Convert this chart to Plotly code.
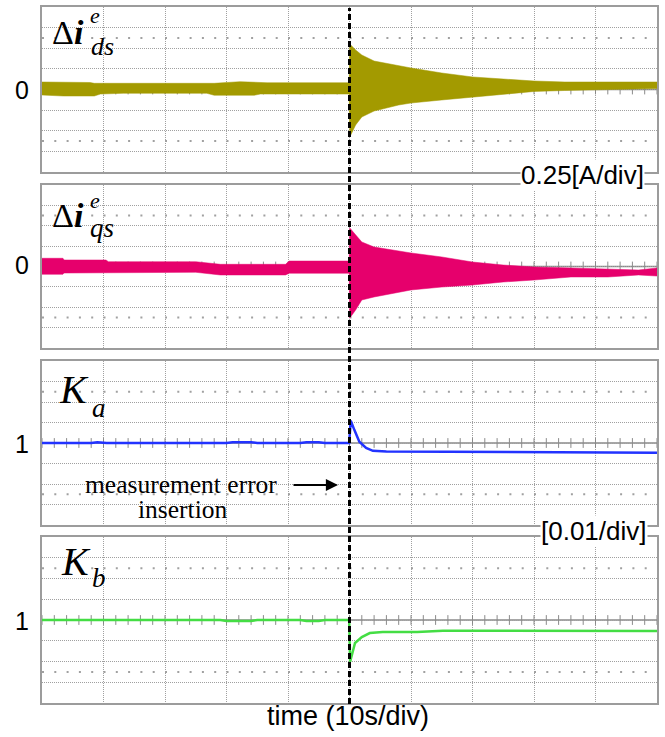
import numpy as np
import plotly.graph_objects as go

W, H = 665, 737

# ---------------- data ----------------
# time in seconds (10 s/div, 10 divisions); error inserted at t = 50 s
t_ids = [0, 3.5, 7.8, 8.5, 9.5, 13.2, 20.3, 26.8, 28, 32.2, 34.5, 35.5, 36.6, 49.95,
         50.05, 51, 52, 54, 58, 60, 65, 70, 75, 80, 85, 90, 95, 100]
ids_upper = [0.091, 0.091, 0.085, 0.075, 0.075, 0.075, 0.067, 0.067, 0.075, 0.095, 0.091, 0.088, 0.082, 0.082,
             0.552, 0.479, 0.418, 0.345, 0.285, 0.261, 0.200, 0.152, 0.127, 0.103, 0.091, 0.091, 0.091, 0.091]
ids_lower = [-0.067, -0.079, -0.079, -0.079, -0.055, -0.046, -0.046, -0.046, -0.070, -0.070, -0.070, -0.055, -0.055, -0.055,
             -0.576, -0.430, -0.333, -0.261, -0.188, -0.164, -0.127, -0.091, -0.055, -0.024, -0.012, -0.006, 0.006, 0.012]

t_iqs = [0, 3.4, 3.6, 10.4, 10.8, 25, 29, 39.6, 40.2, 49.95,
         50.05, 51, 52, 54, 60, 65, 70, 75, 80, 86, 92, 97, 100]
iqs_upper = [0.101, 0.101, 0.080, 0.080, 0.059, 0.059, 0.027, 0.027, 0.067, 0.067,
             0.472, 0.387, 0.301, 0.239, 0.166, 0.117, 0.055, 0.018, -0.006, -0.018, -0.031, -0.043, -0.018]
iqs_lower = [-0.096, -0.096, -0.080, -0.080, -0.071, -0.071, -0.104, -0.104, -0.083, -0.083,
             -0.632, -0.534, -0.411, -0.374, -0.288, -0.252, -0.227, -0.190, -0.166, -0.129, -0.129, -0.104, -0.117]

t_ka = [0, 8, 9, 10.5, 30, 31, 34, 35, 42, 43, 45, 46, 49.95, 50.2, 50.8, 51.6, 52.7, 53.8, 56, 70, 85, 100]
ka = [1.0, 1.0, 1.0004, 1.0, 1.0, 1.0004, 1.0004, 1.0, 1.0, 1.0004, 1.0004, 1.0, 1.0,
      1.0109, 1.0063, 1.0006, 0.9976, 0.9962, 0.9959, 0.9957, 0.9955, 0.9953]

t_kb = [0, 29, 30, 34, 35, 42, 43, 45, 46, 49.95, 50.1, 50.9, 52.0, 53.3, 55.4, 61, 65.2, 80, 100]
kb = [1.0, 1.0, 0.9995, 0.9995, 1.0, 1.0, 0.9995, 0.9995, 1.0, 1.0,
      0.9799, 0.9889, 0.9918, 0.9937, 0.9942, 0.9942, 0.9948, 0.9949, 0.9947]

# panel scales: (center, value per division)
scales = [(0.0, 0.25), (0.0, 0.25), (1.0, 0.01), (1.0, 0.01)]
center_labels = ["0", "0", "1", "1"]

# ---------------- layout helpers ----------------
def fx(px):
    return px / W

def fy(py):
    return 1 - py / H

panel_px = [(7, 172), (185, 348), (361, 525), (537, 703)]
X0, X1 = 42, 657

C_DS = "#a39a00"
C_QS = "#e6006c"
C_KA = "#2233ff"
C_KB = "#44dd44"
GRID = "#a0a0a0"
BORDER = "#9c9c9c"

fig = go.Figure()
layout = dict(width=W, height=H, margin=dict(l=0, r=0, t=0, b=0),
              paper_bgcolor="white", plot_bgcolor="white", showlegend=False)

shapes = []
annotations = []
tick_t = np.arange(0, 100.01, 2)

for i, ((top, bot), (cen, dv)) in enumerate(zip(panel_px, scales), start=1):
    xk = "xaxis" if i == 1 else f"xaxis{i}"
    yk = "yaxis" if i == 1 else f"yaxis{i}"
    xr = "x" if i == 1 else f"x{i}"
    yr = "y" if i == 1 else f"y{i}"
    layout[xk] = dict(domain=[fx(X0), fx(X1)], range=[0, 100], anchor=yr,
                      showticklabels=False, ticks="", zeroline=False,
                      showgrid=True, dtick=10, tick0=0, gridcolor=GRID, gridwidth=1, griddash="1px,1px",
                      showline=True, mirror=True, linecolor=BORDER, linewidth=2, fixedrange=True)
    layout[yk] = dict(domain=[fy(bot), fy(top)], range=[cen - 4 * dv, cen + 4 * dv], anchor=xr,
                      showticklabels=False, ticks="", zeroline=False,
                      showgrid=True, dtick=dv, tick0=cen, gridcolor=GRID, gridwidth=1, griddash="1px,1px",
                      showline=True, mirror=True, linecolor=BORDER, linewidth=2, fixedrange=True)
    # sparse dotted rows at +/-2.5 div
    for s in (2.5, -2.5):
        shapes.append(dict(type="line", xref=xr, yref=yr, x0=0, x1=100, y0=cen + s * dv, y1=cen + s * dv,
                           line=dict(color="#a0a0a0", width=2, dash="2px,10.3px"), layer="below"))
    # center axis line
    shapes.append(dict(type="line", xref=xr, yref=yr, x0=0, x1=100, y0=cen, y1=cen,
                       line=dict(color="#8a8a8a", width=1.5), layer="below"))
    # center axis minor ticks
    fig.add_trace(go.Scatter(x=tick_t, y=[cen] * len(tick_t), mode="markers", xaxis=xr, yaxis=yr,
                             marker=dict(symbol="line-ns", size=7, line=dict(color="#8a8a8a", width=1)),
                             hoverinfo="skip"))
    # center value label
    annotations.append(dict(text=center_labels[i - 1], xref="paper", yref="paper",
                            x=fx(22), y=fy((top + bot) / 2 + (1 if i != 2 else -2)),
                            xanchor="center", yanchor="middle", showarrow=False,
                            font=dict(family="Liberation Sans", size=25, color="black")))

# band traces
for xr, yr, tt, lo, hi, col in [("x", "y", t_ids, ids_lower, ids_upper, C_DS),
                                ("x2", "y2", t_iqs, iqs_lower, iqs_upper, C_QS)]:
    fig.add_trace(go.Scatter(x=tt, y=lo, mode="lines", xaxis=xr, yaxis=yr,
                             line=dict(color=col, width=0.5), hoverinfo="skip"))
    fig.add_trace(go.Scatter(x=tt, y=hi, mode="lines", xaxis=xr, yaxis=yr, fill="tonexty",
                             fillcolor=col, line=dict(color=col, width=0.5), hoverinfo="skip"))

fig.add_trace(go.Scatter(x=t_ka, y=ka, mode="lines", xaxis="x3", yaxis="y3",
                         line=dict(color=C_KA, width=2.5), hoverinfo="skip"))
fig.add_trace(go.Scatter(x=t_kb, y=kb, mode="lines", xaxis="x4", yaxis="y4",
                         line=dict(color=C_KB, width=2.5), hoverinfo="skip"))

# dashed event line
shapes.append(dict(type="line", xref="x", yref="paper", x0=50, x1=50, y0=fy(704), y1=fy(8),
                   line=dict(color="black", width=3, dash="6px,3px"), layer="above"))

SERIF = "Liberation Serif"

def label(text, px, py, size, xanchor="left"):
    annotations.append(dict(text=text, xref="paper", yref="paper", x=fx(px), y=fy(py),
                            xanchor=xanchor, yanchor="middle", showarrow=False,
                            font=dict(family=SERIF, size=size, color="black")))

# panel 1 label: Δi^e_ds
label("Δ<b><i>i</i></b>", 50, 44 - 11.5, 34)
label("<i>e</i>", 88, 23 - 7.4, 22)
label("<i>ds</i>", 89, 55 - 8.8, 26)
# panel 2 label: Δi^e_qs
label("Δ<b><i>i</i></b>", 50, 227 - 11.5, 34)
label("<i>e</i>", 88, 208 - 7.4, 22)
label("<i>qs</i>", 88, 237 - 8.8, 27)
# panel 3: K_a
label("<i>K</i>", 57, 403 - 13.5, 40)
label("<i>a</i>", 90, 417 - 9.1, 27)
# panel 4: K_b
label("<i>K</i>", 59, 575 - 13.5, 40)
label("<i>b</i>", 90, 587 - 9.1, 27)

# measurement error insertion
label("measurement error", 181, 493 - 8.6, 25.5, xanchor="center")
label("insertion", 182, 518 - 8.6, 25.5, xanchor="center")
annotations.append(dict(text="", xref="paper", yref="paper", x=fx(338), y=fy(485),
                        ax=-46, ay=0, showarrow=True, arrowhead=2, arrowsize=1.1,
                        arrowwidth=2.2, arrowcolor="black"))

# scale texts
annotations.append(dict(text="0.25[A/div]", xref="paper", yref="paper", x=fx(645), y=fy(175),
                        xanchor="right", yanchor="middle", showarrow=False, bgcolor="white",
                        borderpad=0,
                        font=dict(family="Liberation Sans", size=26, color="black")))
annotations.append(dict(text="[0.01/div]", xref="paper", yref="paper", x=fx(648), y=fy(531),
                        xanchor="right", yanchor="middle", showarrow=False, bgcolor="white",
                        borderpad=0,
                        font=dict(family="Liberation Sans", size=26, color="black")))
annotations.append(dict(text="time (10s/div)", xref="paper", yref="paper", x=fx(348), y=fy(716),
                        xanchor="center", yanchor="middle", showarrow=False,
                        font=dict(family="Liberation Sans", size=27, color="black")))

layout["shapes"] = shapes
layout["annotations"] = annotations
fig.update_layout(**layout)
fig.write_html("out.html")
